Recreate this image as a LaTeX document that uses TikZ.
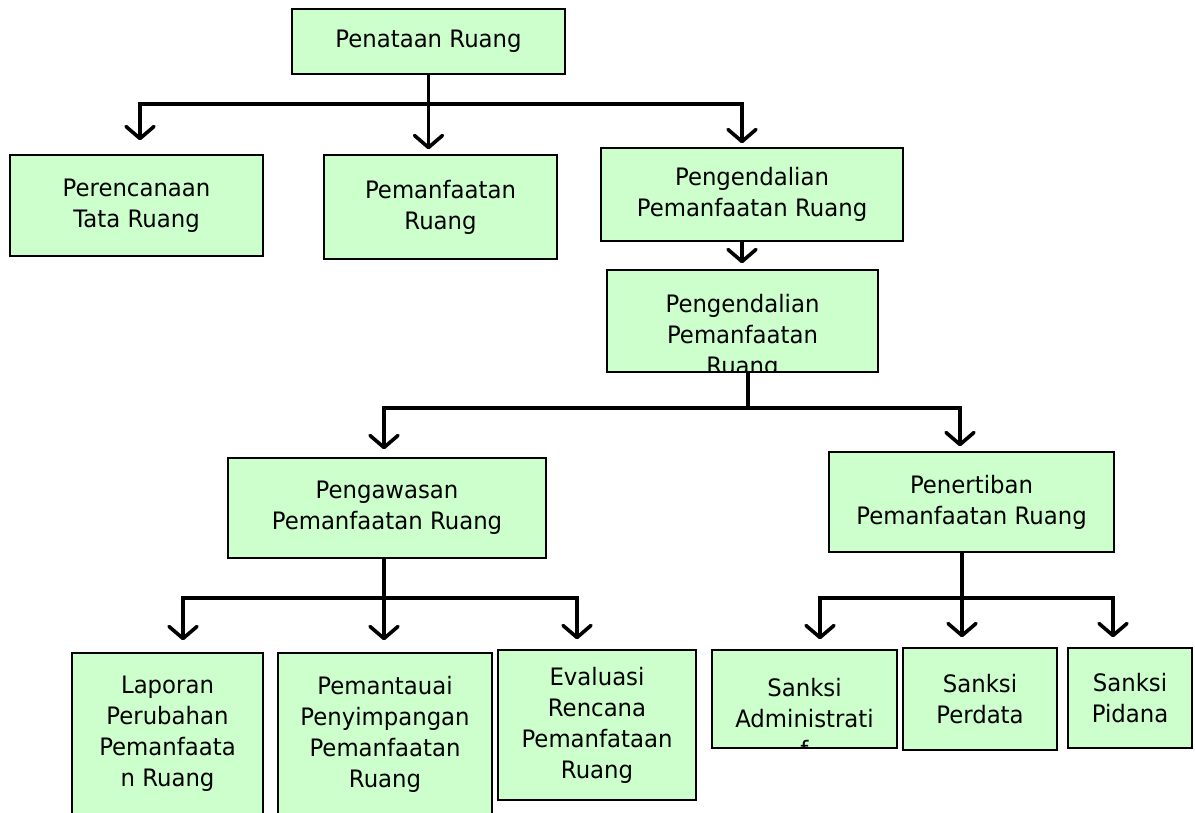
\documentclass[tikz,border=0pt]{standalone}
\usepackage{fontspec}
\setmainfont{DejaVu Sans}[FakeStretch=0.95]
\usetikzlibrary{arrows.meta}
\definecolor{boxgreen}{HTML}{CCFFCC}

\begin{document}
\begin{tikzpicture}[x=1pt, y=-1pt,
  txt/.style={align=center, inner sep=0pt, font=\fontsize{24}{31}\selectfont},
  box/.style={txt, draw, line width=1.4pt, fill=boxgreen},
  link/.style={line width=3.6pt},
  arr/.style={link, -{Straight Barb[length=12pt,width=28pt,round]}, shorten >=#1},
  arr/.default=5pt]

\useasboundingbox (0,0) rectangle (1195,813);

% top level
\node[box, minimum width=273pt, minimum height=65pt] (penataan) at (428.5,41.5) {Penataan Ruang};
\node[box, minimum width=253pt, minimum height=101pt] (perencanaan) at (136.5,205.5) {Perencanaan\\Tata Ruang};
\node[box, minimum width=233pt, minimum height=104pt] (pemanfaatan) at (440.5,207) {Pemanfaatan\\Ruang};
\node[box, minimum width=302pt, minimum height=93pt] (kendali1) at (752,194.5) {Pengendalian\\Pemanfaatan Ruang};

% second box, its text runs over the bottom edge
\node[box, minimum width=271pt, minimum height=102pt] (kendali2) at (742.5,321) {};
\begin{scope}
  \clip ([xshift=1pt,yshift=1pt]kendali2.south west) rectangle ([xshift=-1pt,yshift=-1pt]kendali2.north east);
  \node[txt] (kendali2txt) at ([yshift=-16pt]kendali2.center) {Pengendalian\\Pemanfaatan\\Ruang};
\end{scope}

\node[box, minimum width=318pt, minimum height=100pt] (pengawasan) at (387,508) {Pengawasan\\Pemanfaatan Ruang};
\node[box, minimum width=285pt, minimum height=100pt] (penertiban) at (971.5,502) {Penertiban\\Pemanfaatan Ruang};

% bottom row
\node[box, minimum width=191pt, minimum height=162pt] (laporan) at (167.5,734) {Laporan\\Perubahan\\Pemanfaata\\n Ruang};
\node[box, minimum width=214pt, minimum height=162pt] (pemantauan) at (385,734) {Pemantauai\\Penyimpangan\\Pemanfaatan\\Ruang};
\node[box, minimum width=198pt, minimum height=150pt] (evaluasi) at (597,725) {Evaluasi\\Rencana\\Pemanfataan\\Ruang};

\node[box, minimum width=185pt, minimum height=98pt] (administratif) at (804.5,699) {};
\begin{scope}
  \clip ([xshift=1pt,yshift=1pt]administratif.south west) rectangle ([xshift=-1pt,yshift=-1pt]administratif.north east);
  \node[txt] (administratiftxt) at ([yshift=-19pt]administratif.center) {Sanksi\\Administrati\\f};
\end{scope}
\node[box, minimum width=154pt, minimum height=102pt] (perdata) at (980,699) {Sanksi\\Perdata};
\node[box, minimum width=124pt, minimum height=100pt] (pidana) at (1130,698) {Sanksi\\Pidana};

% connectors
\coordinate (bar1) at (428.5,104);
\coordinate (bar2) at (748,408);
\coordinate (bar3) at (384,598);
\coordinate (bar4) at (962,598);

\draw[link] (penataan.south) -- (bar1);
\draw[arr=14pt] (bar1) -| ([xshift=3.5pt]perencanaan.north);
\draw[arr] (bar1) -| ([xshift=-12pt]pemanfaatan.north);
\draw[arr=4pt] (bar1) -| ([xshift=-10pt]kendali1.north);

\draw[arr=6pt] ([xshift=-10pt]kendali1.south) -- ([xshift=-10pt]kendali1.south |- kendali2.north);

\draw[link] ([xshift=5.5pt]kendali2.south) -- (bar2);
\draw[arr=8pt] (bar2) -| ([xshift=-3pt]pengawasan.north);
\draw[arr] (bar2) -| ([xshift=-11.5pt]penertiban.north);

\draw[link] ([xshift=-3pt]pengawasan.south) -- (bar3);
\draw[arr=12pt] (bar3) -| ([xshift=15.5pt]laporan.north);
\draw[arr=12pt] (bar3) -| ([xshift=-1pt]pemantauan.north);
\draw[arr=10pt] (bar3) -| ([xshift=-20pt]evaluasi.north);

\draw[link] ([xshift=-9.5pt]penertiban.south) -- (bar4);
\draw[arr=10pt] (bar4) -| ([xshift=15.5pt]administratif.north);
\draw[arr=10pt] (bar4) -| ([xshift=-18pt]perdata.north);
\draw[arr=10pt] (bar4) -| ([xshift=-17pt]pidana.north);

\end{tikzpicture}
\end{document}
